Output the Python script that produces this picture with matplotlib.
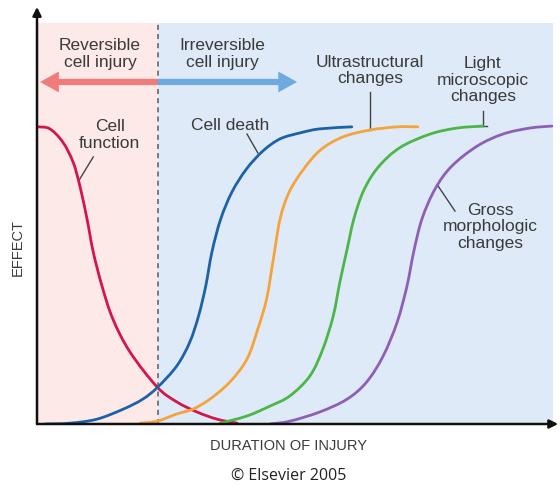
import matplotlib
matplotlib.use("Agg")
import matplotlib.pyplot as plt
from matplotlib.path import Path
from matplotlib.patches import PathPatch

# values: duration (0-100) vs effect (0-100)
cell_function_x = [0.3, 2.5, 5.0, 7.0, 8.3, 9.7, 10.9, 12.6, 14.7, 18.0, 23.3, 27.1, 31.0, 34.9, 38.8]
cell_function_y = [74.1, 73.6, 70.3, 65.3, 59.4, 51.1, 42.9, 34.4, 26.2, 18.0, 9.2, 5.5, 3.0, 1.2, 0.2]

cell_death_x = [1.6, 6.4, 11.6, 16.7, 20.5, 23.4, 27.1, 29.6, 31.3, 32.7, 33.9, 35.6, 37.8, 40.6, 43.8, 47.1, 51.0, 54.8, 61.0]
cell_death_y = [0.0, 0.2, 1.2, 3.7, 6.2, 9.2, 14.5, 20.4, 26.9, 34.4, 42.9, 51.1, 57.9, 63.6, 68.1, 71.1, 72.6, 73.6, 74.1]

ultra_x = [20.0, 23.3, 27.1, 30.2, 33.5, 37.4, 40.7, 42.8, 44.5, 45.8, 47.1, 48.9, 51.7, 55.0, 59.3, 64.5, 69.8, 73.8]
ultra_y = [0.2, 0.7, 2.5, 3.7, 6.2, 10.5, 16.2, 23.7, 31.2, 41.1, 51.1, 57.9, 63.6, 68.4, 71.6, 73.3, 74.1, 74.1]

light_x = [35.5, 40.7, 45.2, 49.0, 52.9, 55.4, 57.4, 58.7, 60.1, 61.4, 63.3, 66.1, 70.3, 76.2, 81.4, 86.4]
light_y = [0.2, 2.0, 4.5, 7.0, 12.0, 18.7, 26.9, 35.4, 43.6, 51.1, 58.2, 64.0, 68.9, 72.3, 73.8, 74.3]

gross_x = [45.2, 49.0, 54.8, 60.1, 63.9, 67.1, 69.8, 71.7, 73.0, 74.6, 77.1, 80.3, 85.3, 90.3, 95.5, 99.8]
gross_y = [0.0, 0.7, 3.0, 6.2, 10.5, 17.0, 25.4, 34.4, 42.9, 51.1, 58.5, 64.2, 69.3, 72.3, 73.8, 74.3]

boundary = 23.4   # reversible / irreversible split
arrow_y = 85.3
arrow_left_end = 0.6
arrow_right_end = 50.4

txt = "#3a3a3a"
font = "Liberation Sans"


def smooth_curve(ax, xs, ys, color):
    # draw a smooth line through the read points (bezier segments, catmull-rom style handles)
    pts = list(zip(xs, ys))
    n = len(pts)
    verts = [pts[0]]
    codes = [Path.MOVETO]
    for i in range(n - 1):
        p0 = pts[max(i - 1, 0)]
        p1 = pts[i]
        p2 = pts[i + 1]
        p3 = pts[min(i + 2, n - 1)]
        c1 = (p1[0] + (p2[0] - p0[0]) / 6, p1[1] + (p2[1] - p0[1]) / 6)
        c2 = (p2[0] - (p3[0] - p1[0]) / 6, p2[1] - (p3[1] - p1[1]) / 6)
        verts += [c1, c2, p2]
        codes += [Path.CURVE4] * 3
    ax.add_patch(PathPatch(Path(verts, codes), fill=False, edgecolor=color, lw=2,
                           capstyle="round", zorder=3))


fig = plt.figure(figsize=(5.6, 4.89), dpi=100)
ax = fig.add_axes([37 / 560, 64 / 489, 516 / 560, 401 / 489])
ax.set_xlim(0, 100)
ax.set_ylim(0, 100)
ax.axis("off")

# backgrounds
ax.axvspan(0, boundary, color="#fde9e7", lw=0, zorder=0)
ax.axvspan(boundary, 100, color="#deeaf8", lw=0, zorder=0)
ax.axvline(boundary, color="#666666", lw=1.2, ls=(0, (3, 2.5)), zorder=1)

# curves
smooth_curve(ax, cell_function_x, cell_function_y, "#d3154b")
smooth_curve(ax, cell_death_x, cell_death_y, "#1d62a9")
smooth_curve(ax, ultra_x, ultra_y, "#f5a33b")
smooth_curve(ax, light_x, light_y, "#4cb649")
smooth_curve(ax, gross_x, gross_y, "#8e5fb6")

# big arrows
astyle = "simple,head_length=1.35,head_width=1.5,tail_width=0.45"
ax.annotate("", xy=(arrow_left_end, arrow_y), xytext=(boundary, arrow_y),
            arrowprops=dict(arrowstyle=astyle, color="#f17b7b", mutation_scale=10,
                            shrinkA=0, shrinkB=0, lw=0), zorder=2)
ax.annotate("", xy=(arrow_right_end, arrow_y), xytext=(boundary, arrow_y),
            arrowprops=dict(arrowstyle=astyle, color="#6eaae0", mutation_scale=10,
                            shrinkA=0, shrinkB=0, lw=0), zorder=2)

# axes with arrow heads
ax.annotate("", xy=(1.01, 0), xytext=(0, 0), xycoords="axes fraction",
            arrowprops=dict(arrowstyle="-|>,head_length=0.5,head_width=0.25", color="#111111",
                            lw=1.8, shrinkA=0, shrinkB=0), annotation_clip=False)
ax.annotate("", xy=(0, 1.04), xytext=(0, 0), xycoords="axes fraction",
            arrowprops=dict(arrowstyle="-|>,head_length=0.5,head_width=0.25", color="#111111",
                            lw=1.8, shrinkA=0, shrinkB=0), annotation_clip=False)

lab = dict(color=txt, fontsize=12.5, family=font, ha="center", va="center", linespacing=1.1, zorder=4)
ax.text(12.2, 92.5, "Reversible\ncell injury", **lab)
ax.text(36.0, 92.5, "Irreversible\ncell injury", **lab)
ax.text(14.1, 72.3, "Cell\nfunction", **lab)
ax.text(37.4, 74.8, "Cell death", **lab)
ax.text(64.5, 88.5, "Ultrastructural\nchanges", **lab)
ax.text(86.4, 86.0, "Light\nmicroscopic\nchanges", **lab)
ax.text(87.8, 49.4, "Gross\nmorphologic\nchanges", **lab)

# leader lines
lead = dict(color="#444444", lw=1, zorder=2)
ax.plot([8.3, 10.9], [61.1, 66.6], **lead)
ax.plot([42.8, 40.7], [67.6, 72.3], **lead)
ax.plot([64.5, 64.5], [73.3, 82.8], **lead)
ax.plot([86.4, 86.4], [74.3, 78.1], **lead)
ax.plot([85.3, 87.3], [74.2, 74.2], **lead)
ax.plot([77.6, 81.0], [59.6, 53.1], **lead)

fig.text(18 / 560, 1 - 247 / 489, "EFFECT", rotation=90, ha="center", va="center",
         fontsize=10.5, color=txt, family=font)
fig.text(288 / 560, 1 - 446 / 489, "DURATION OF INJURY", ha="center", va="center",
         fontsize=10.5, color=txt, family=font)
fig.text(289 / 560, 1 - 476 / 489, "\u00a9 Elsevier 2005", ha="center", va="center",
         fontsize=11.5, color="#222222", family="Open Sans")

fig.savefig("out.png", dpi=100)
